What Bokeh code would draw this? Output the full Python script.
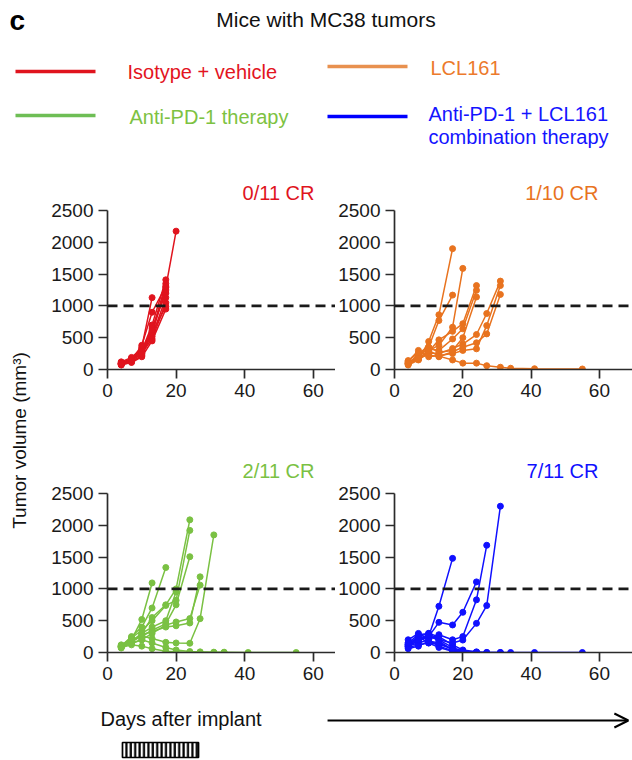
import math
from bokeh.plotting import figure
from bokeh.layouts import column, row
from bokeh.models import Range1d, Span, Arrow, OpenHead, FixedTicker, ColumnDataSource
from bokeh.embed import file_html
from bokeh.resources import INLINE
from bokeh.core.properties import value

FONT = "Liberation Sans"

# ---------------- data ----------------
DAYS = [4, 7, 10, 13, 17, 20, 24, 27, 31, 34, 41, 55]

iso_vehicle = [
    [85, 130, 350, 1130],
    [100, 150, 300, 700, 1410],
    [90, 140, 250, 600, 1350],
    [70, 120, 220, 560, 1290, 2175],
    [110, 165, 280, 650, 1200],
    [95, 170, 310, 520, 1130],
    [80, 140, 260, 480, 1050],
    [120, 190, 330, 580, 990],
    [75, 110, 200, 450, 950],
    [100, 160, 240, 620, 1250],
    [90, 150, 380, 900, 1310],
]

lcl161 = [
    [90, 160, 440, 860, 1900],
    [110, 200, 350, 770, 1170],
    [80, 250, 300, 380, 665, 1590],
    [120, 180, 280, 466, 600, 720, 1320],
    [100, 220, 330, 300, 480, 640, 1245],
    [70, 150, 260, 250, 330, 400, 550, 880, 1390],
    [130, 300, 200, 220, 250, 300, 325, 690, 1320],
    [90, 180, 230, 200, 280, 350, 420, 560, 1180],
    [140, 260, 352, 272, 300, 500, 1140],
    [100, 170, 300, 210, 150, 100, 100, 60, 36, 20, 12, 8],
]

anti_pd1 = [
    [90, 200, 520, 1094],
    [100, 250, 400, 700, 1336],
    [80, 150, 300, 550, 750, 1000, 2086],
    [110, 230, 350, 500, 740, 820, 1920],
    [90, 180, 250, 350, 450, 750, 1506],
    [70, 160, 280, 330, 400, 420, 464, 1190],
    [100, 140, 200, 300, 430, 480, 533, 1059],
    [120, 200, 260, 220, 160, 150, 145, 532, 1849],
    [100, 180, 300, 400, 500, 953],
    [100, 150, 200, 150, 80, 40, 15, 10, 5, 5, 0, 0],
    [80, 120, 100, 60, 20, 10, 0, 0, 0, 0],
]

combo = [
    [100, 200, 250, 727, 1480],
    [120, 220, 250, 474, 433, 632, 1110],
    [100, 150, 200, 280, 200, 250, 828, 1686],
    [130, 250, 300, 200, 150, 196, 458, 738, 2300],
    [150, 280, 300, 250, 120, 40, 10, 0, 0, 0, 0, 0],
    [100, 180, 250, 200, 80, 20, 0],
    [200, 300, 200, 100, 30, 0],
    [80, 120, 150, 130, 60, 10, 0],
    [120, 250, 150, 80, 20, 0],
    [60, 100, 180, 150, 50, 15, 0],
    [150, 200, 280, 180, 40, 5, 0, 0, 0],
]

group_names = ["Isotype + vehicle", "LCL161", "Anti-PD-1 therapy",
               "Anti-PD-1 + LCL161\ncombination therapy"]
cr_labels = ["0/11 CR", "1/10 CR", "2/11 CR", "7/11 CR"]
y_ticks = [0, 500, 1000, 1500, 2000, 2500]
x_ticks = [0, 20, 40, 60]
threshold = 1000
treatment_days = [4.5, 26.7]

RED, ORANGE, GREEN, BLUE = "#E0141E", "#E8731F", "#7AC143", "#1010FF"
AXC = "#2b2b2b"

# ---------------- layout constants ----------------
PX_PER_DAY = 3.43
FRAME_H = 159


def panel(curves, color, label, width, bl, bt, bb, t_off, t_standoff):
    frame_w = width - bl
    p = figure(width=width, height=bt + FRAME_H + bb,
               x_range=Range1d(0, frame_w / PX_PER_DAY), y_range=Range1d(0, 2500),
               output_backend="svg", toolbar_location=None,
               min_border_left=bl, min_border_right=0,
               min_border_top=bt, min_border_bottom=bb)
    p.outline_line_color = None
    p.grid.visible = False
    p.background_fill_color = None
    p.border_fill_color = "white"
    p.add_layout(Span(location=threshold, dimension="width", line_color="#1a1a1a",
                      line_width=2.6, line_dash="10 6"))
    for vols in curves:
        d = DAYS[:len(vols)]
        p.line(d, vols, line_color=color, line_width=1.5)
        p.scatter(d, vols, size=6, fill_color=color, line_color=color)
    for ax in (p.xaxis[0], p.yaxis[0]):
        ax.axis_line_width = 1.7
        ax.axis_line_color = AXC
        ax.major_tick_line_width = 1.7
        ax.major_tick_line_color = AXC
        ax.major_tick_in = 0
        ax.major_tick_out = 9
        ax.minor_tick_line_color = None
        ax.major_label_text_font = FONT
        ax.major_label_text_font_size = "19px"
        ax.major_label_text_color = "#1a1a1a"
        ax.major_label_standoff = 5
    p.xaxis.ticker = FixedTicker(ticks=x_ticks)
    p.yaxis.ticker = FixedTicker(ticks=y_ticks)
    p.title.text = label
    p.title.align = "right"
    p.title.offset = t_off
    p.title.standoff = t_standoff
    p.title.text_font = FONT
    p.title.text_font_size = "20px"
    p.title.text_font_style = "normal"
    p.title.text_color = color
    return p


W_L, W_R = 287, 297
p1 = panel(iso_vehicle, RED, cr_labels[0], W_L, 59, 50, 38, 21, 13)
p2 = panel(lcl161, ORANGE, cr_labels[1], W_R, 58, 50, 38, 34, 13)
p3 = panel(anti_pd1, GREEN, cr_labels[2], W_L, 59, 86, 38, 21, 23)
p4 = panel(combo, BLUE, cr_labels[3], W_R, 58, 86, 38, 34, 23)

# ---------------- header ----------------
HW, HH = 632, 160
hdr = figure(width=HW, height=HH, x_range=Range1d(0, HW), y_range=Range1d(HH, 0),
             x_axis_type=None, y_axis_type=None, output_backend="svg",
             toolbar_location=None, min_border=0)
hdr.grid.visible = False
hdr.outline_line_color = None

hdr.text(x=[9], y=[20], text=["c"], text_font=value(FONT), text_font_style="bold",
         text_font_size="28px", text_baseline="middle", text_align="left", text_color="black")
hdr.text(x=[325.5], y=[19], text=["Mice with MC38 tumors"], text_font=value(FONT),
         text_font_size="21px", text_baseline="middle", text_align="center", text_color="#111111")

leg_lines = ColumnDataSource(dict(
    x0=[15, 327, 15, 327], x1=[95, 407, 95, 407], y=[71, 66, 115, 116],
    color=[RED, "#E8914F", "#6EBE55", "#0000FF"]))
hdr.segment(x0="x0", y0="y", x1="x1", y1="y", line_color="color", line_width=3.5, source=leg_lines)

leg_text = ColumnDataSource(dict(
    x=[127, 430, 129, 428, 428], y=[71, 67, 116, 113, 136],
    text=[group_names[0], group_names[1], group_names[2]] + group_names[3].split("\n"),
    color=["#E3141E", "#EC7A2C", "#7DC242", "#1414FF", "#1414FF"]))
hdr.text(x="x", y="y", text="text", text_color="color", text_font=value(FONT),
         text_font_size="20px", text_baseline="middle", text_align="left", source=leg_text)

# ---------------- y label ----------------
YW, YH = 48, 530
ylab = figure(width=YW, height=YH, x_range=Range1d(0, YW), y_range=Range1d(0, YH),
              x_axis_type=None, y_axis_type=None, output_backend="svg",
              toolbar_location=None, min_border=0)
ylab.grid.visible = False
ylab.outline_line_color = None
ylab.text(x=[19], y=[250], text=["Tumor volume (mm³)"], angle=math.pi / 2,
          text_font=value(FONT), text_font_size="19px", text_baseline="middle",
          text_align="center", text_color="#111111")

# ---------------- footer ----------------
FW, FH = 632, 70
d0 = -106.5 / PX_PER_DAY
ftr = figure(width=FW, height=FH, x_range=Range1d(d0, d0 + FW / PX_PER_DAY), y_range=Range1d(FH, 0),
             x_axis_type=None, y_axis_type=None, output_backend="svg",
             toolbar_location=None, min_border=0)
ftr.grid.visible = False
ftr.outline_line_color = None
ftr.text(x=[-1.9], y=[28], text=["Days after implant"], text_font=value(FONT),
         text_font_size="20px", text_baseline="middle", text_align="left", text_color="#111111")
ftr.add_layout(Arrow(x_start=64.3, y_start=30, x_end=152.0, y_end=30,
                     line_width=2, line_color="black",
                     end=OpenHead(size=14, line_width=2, line_color="black")))
ftr.quad(left=[treatment_days[0]], right=[treatment_days[1]], top=[52], bottom=[67],
         fill_color="white", line_color="black", line_width=1.6,
         hatch_pattern="|", hatch_color="black", hatch_scale=4.4, hatch_weight=2.2)

layout = column(hdr, row(ylab, column(row(p1, p2), row(p3, p4))), ftr)

open("out.html", "w").write(file_html(layout, INLINE))
